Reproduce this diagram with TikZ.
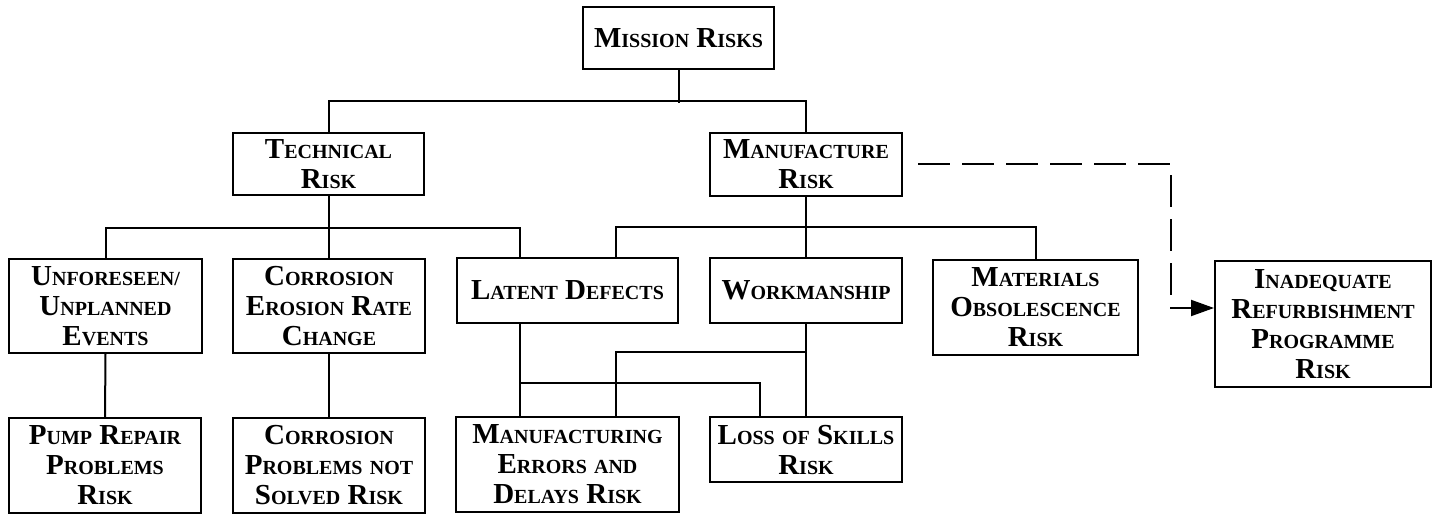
\documentclass[tikz,border=0pt]{standalone}
\usepackage{fontspec}
\setmainfont{Liberation Serif}
\usetikzlibrary{arrows.meta,calc}

% first letter large, rest as small capitals
\newcommand{\sk}[2]{{\fontsize{14.5}{15}\selectfont #1}{\fontsize{10}{15}\selectfont #2}}

\begin{document}
\begin{tikzpicture}[x=0.5pt,y=-0.5pt,
    riskbox/.style={draw, line width=1pt, inner sep=0pt, align=center,
        font=\bfseries\fontsize{14.5}{15}\selectfont},
    link/.style={line width=1pt},
    riskdash/.style={line width=1pt, dash pattern=on 16pt off 6pt,
        -{Triangle[length=11.5pt,width=8pt]}}]
    \useasboundingbox (0,0) rectangle (1432,519);

    % top levels
    \node[riskbox, minimum width=95.5pt, minimum height=31pt] (mission) at (678.5,38) {\sk{M}{ISSION} \sk{R}{ISKS}};
    \node[riskbox, minimum width=95.5pt, minimum height=31pt] (tech) at (328.5,164) {\sk{T}{ECHNICAL}\\\sk{R}{ISK}};
    \node[riskbox, minimum width=96pt, minimum height=31.5pt] (manu) at (806,164.5) {\sk{M}{ANUFACTURE}\\\sk{R}{ISK}};

    % middle row
    \node[riskbox, minimum width=96.5pt, minimum height=47pt] (unfor) at (105.5,306) {\sk{U}{NFORESEEN/}\\\sk{U}{NPLANNED}\\\sk{E}{VENTS}};
    \node[riskbox, minimum width=96pt, minimum height=47pt] (corr) at (329,306) {\sk{C}{ORROSION}\\\sk{E}{ROSION} \sk{R}{ATE}\\\sk{C}{HANGE}};
    \node[riskbox, minimum width=110.5pt, minimum height=32.5pt] (latent) at (567.5,290.5) {\sk{L}{ATENT} \sk{D}{EFECTS}};
    \node[riskbox, minimum width=96pt, minimum height=32.5pt] (work) at (806,290.5) {\sk{W}{ORKMANSHIP}};
    \node[riskbox, minimum width=102.5pt, minimum height=47.5pt] (mater) at (1035.5,307.5) {\sk{M}{ATERIALS}\\\sk{O}{BSOLESCENCE}\\\sk{R}{ISK}};
    \node[riskbox, minimum width=108pt, minimum height=63pt] (inad) at (1323,324) {\sk{I}{NADEQUATE}\\\sk{R}{EFURBISHMENT}\\\sk{P}{ROGRAMME}\\\sk{R}{ISK}};

    % bottom row
    \node[riskbox, minimum width=96pt, minimum height=47.5pt] (pump) at (105,465.5) {\sk{P}{UMP} \sk{R}{EPAIR}\\\sk{P}{ROBLEMS}\\\sk{R}{ISK}};
    \node[riskbox, minimum width=96pt, minimum height=47.5pt] (cprob) at (329,465.5) {\sk{C}{ORROSION}\\\sk{P}{ROBLEMS} \sk{}{NOT}\\\sk{S}{OLVED} \sk{R}{ISK}};
    \node[riskbox, minimum width=111.5pt, minimum height=47.5pt] (merr) at (567.5,464.5) {\sk{M}{ANUFACTURING}\\\sk{E}{RRORS} \sk{}{AND}\\\sk{D}{ELAYS} \sk{R}{ISK}};
    \node[riskbox, minimum width=96pt, minimum height=32.5pt] (loss) at (806,449.5) {\sk{L}{OSS} \sk{}{OF} \sk{S}{KILLS}\\\sk{R}{ISK}};

    % mission to the two main risks
    \draw[link] (mission.south) -- ++(0,33);
    \draw[link] (tech.north) -- ++(0,-31) -| (manu.north);

    % technical risk
    \draw[link] (tech.south) -- ++(0,34);
    \draw[link] (unfor.north) -- ++(0,-30) -| ($(latent.north)+(-47.5,0)$);
    \draw[link] (corr.north) -- ++(0,-30);
    \draw[link] (unfor.south) -- (pump.north);
    \draw[link] (corr.south) -- (cprob.north);

    % manufacture risk
    \draw[link] (manu.south) -- (work.north);
    \draw[link] ($(latent.north)+(48.5,0)$) -- ++(0,-30) -| (mater.north);

    % lower cross links
    \draw[link] ($(latent.south)+(-47.5,0)$) -- ($(merr.north)+(-47.5,0)$);
    \draw[link] ($(merr.north)+(-47.5,0)$) -- ++(0,-33) -| ($(loss.north)+(-46,0)$);
    \draw[link] (work.south) -- (loss.north);
    \draw[link] ($(merr.north)+(48.5,0)$) -- ++(0,-64) -| (work.south);

    % refurbishment
    \draw[riskdash] ([xshift=7.5pt]manu.east) -- ++(253,0) |- ([yshift=8pt]inad.west);

\end{tikzpicture}
\end{document}
